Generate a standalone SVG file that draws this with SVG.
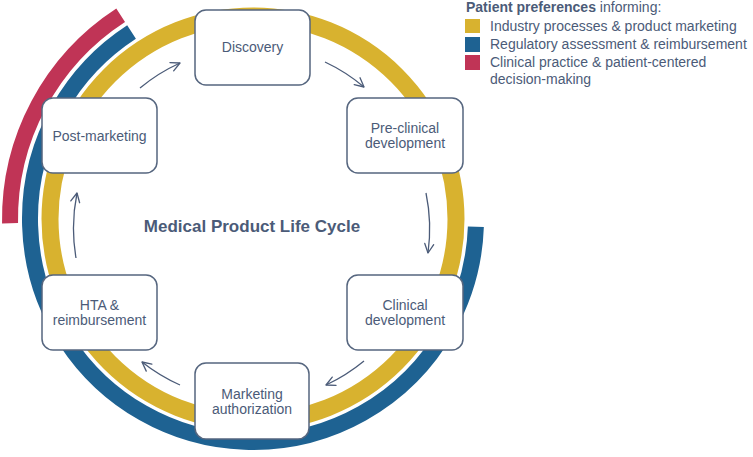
<svg xmlns="http://www.w3.org/2000/svg" width="753" height="457" viewBox="0 0 753 457">
<style>
.ring{fill:none}
.box{fill:#ffffff;stroke:#56667f;stroke-width:1.5}
.lbl{font-family:"Liberation Sans",Arial,sans-serif;font-size:14px;fill:#4b5b78;text-anchor:middle}
.title{font-family:"Liberation Sans",Arial,sans-serif;font-size:17px;font-weight:bold;fill:#4b5b78;text-anchor:middle}
.leg{font-family:"Liberation Sans",Arial,sans-serif;font-size:14px;fill:#4b5b78}
.arr{fill:none;stroke:#4b5b78;stroke-width:1.3;marker-end:url(#ah)}
</style>
<defs>
<marker id="ah" markerUnits="userSpaceOnUse" markerWidth="14" markerHeight="14" refX="10" refY="5" orient="auto" viewBox="0 0 14 10">
<path d="M1,0.5 L10,5 L1,9.5" fill="none" stroke="#4b5b78" stroke-width="1.3" stroke-linecap="round" stroke-linejoin="round"/>
</marker>
</defs>
<rect width="753" height="457" fill="#ffffff"/>
<g id="rings">
<circle class="ring" cx="253" cy="219" r="203" stroke="#d8b22f" stroke-width="17"/>
<path class="ring" d="M475.86,226.78 A223,223 0 1 1 131.55,31.97" stroke="#1e6292" stroke-width="16"/>
<path class="ring" d="M10.04,223.24 A243,243 0 0 1 120.66,15.2" stroke="#c03456" stroke-width="16"/>
</g>
<g id="connectors">
<path class="arr" d="M140,88 A177,177 0 0 1 180,63"/>
<path class="arr" d="M325,62 A177,177 0 0 1 364,87"/>
<path class="arr" d="M426,193 A177,177 0 0 1 428,253"/>
<path class="arr" d="M364,361 A177,177 0 0 1 326,385"/>
<path class="arr" d="M180,385 A177,177 0 0 1 142,362"/>
<path class="arr" d="M76,258 A177,177 0 0 1 77,193"/>
</g>
<g id="discovery">
<rect class="box" x="195" y="10" width="115" height="75" rx="11"/>
<text class="lbl" x="252.5" y="52">Discovery</text>
</g>
<g id="preclinical">
<rect class="box" x="347" y="98" width="116" height="75" rx="11"/>
<text class="lbl" x="405" y="133">Pre-clinical</text>
<text class="lbl" x="405" y="148">development</text>
</g>
<g id="clinical">
<rect class="box" x="347" y="275" width="116" height="75" rx="11"/>
<text class="lbl" x="405" y="310">Clinical</text>
<text class="lbl" x="405" y="325">development</text>
</g>
<g id="marketing">
<rect class="box" x="195" y="363" width="114" height="76" rx="11"/>
<text class="lbl" x="252" y="398.5">Marketing</text>
<text class="lbl" x="252" y="413.5">authorization</text>
</g>
<g id="hta">
<rect class="box" x="42" y="275" width="115" height="75" rx="11"/>
<text class="lbl" x="99.5" y="310">HTA &amp;</text>
<text class="lbl" x="99.5" y="325">reimbursement</text>
</g>
<g id="postmarketing">
<rect class="box" x="42" y="98" width="115" height="75" rx="11"/>
<text class="lbl" x="99.5" y="140.5">Post-marketing</text>
</g>
<g id="center-title">
<text class="title" x="252" y="232">Medical Product Life Cycle</text>
</g>
<g id="legend">
<text class="leg" x="466" y="12"><tspan font-weight="bold">Patient preferences</tspan> informing:</text>
<rect x="465" y="19" width="15" height="14" fill="#d8b22f"/>
<rect x="465" y="37" width="15" height="15" fill="#1e6292"/>
<rect x="465" y="55" width="15" height="15" fill="#c03456"/>
<text class="leg" x="490" y="31">Industry processes &amp; product marketing</text>
<text class="leg" x="490" y="49">Regulatory assessment &amp; reimbursement</text>
<text class="leg" x="490" y="67">Clinical practice &amp; patient-centered</text>
<text class="leg" x="490" y="84">decision-making</text>
</g>
</svg>
